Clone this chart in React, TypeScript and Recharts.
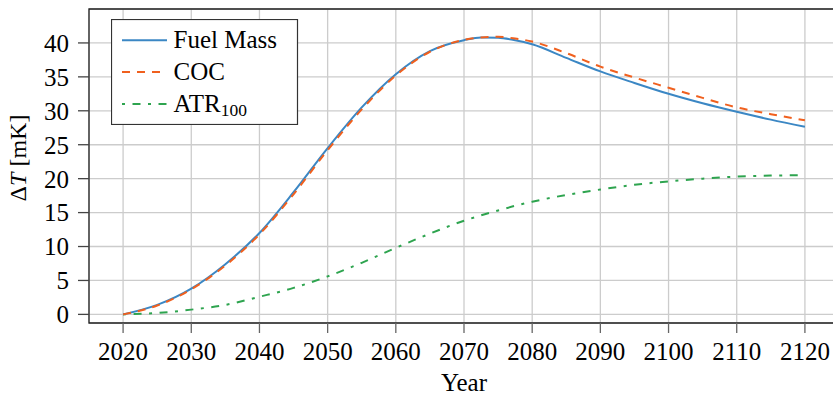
import React from 'react';
import { LineChart, Line, XAxis, YAxis, CartesianGrid, ReferenceArea } from 'recharts';

const years = [2020, 2025, 2030, 2035, 2040, 2045, 2050, 2055, 2060, 2065, 2070, 2072.5, 2075, 2077.5, 2080, 2085, 2090, 2095, 2100, 2105, 2110, 2115, 2120];
const fuelMass = [0, 1.4, 3.8, 7.4, 12.0, 18.0, 24.5, 30.5, 35.4, 38.8, 40.4, 40.8, 40.75, 40.4, 39.8, 37.8, 35.8, 34.1, 32.5, 31.1, 29.85, 28.7, 27.65];
const coc = [0, 1.3, 3.7, 7.2, 11.8, 17.7, 24.2, 30.2, 35.2, 38.7, 40.45, 40.8, 40.9, 40.65, 40.2, 38.5, 36.5, 34.9, 33.4, 31.9, 30.5, 29.5, 28.6];
const atr100 = [0, 0.2, 0.7, 1.4, 2.6, 3.9, 5.6, 7.6, 9.8, 11.9, 13.8, 14.6, 15.3, 16.0, 16.6, 17.6, 18.4, 19.1, 19.6, 20.0, 20.3, 20.45, 20.5];
const xTicks = [2020, 2030, 2040, 2050, 2060, 2070, 2080, 2090, 2100, 2110, 2120];
const yTicks = [0, 5, 10, 15, 20, 25, 30, 35, 40];
const seriesNames = ['Fuel Mass', 'COC', 'ATR'];

const data = years.map((y, i) => ({ year: y, fuel: fuelMass[i], coc: coc[i], atr: atr100[i] }));

const FONT = "'Liberation Serif', serif";
const BLUE = '#3b87c4';
const ORANGE = '#f0601e';
const GREEN = '#2ea44f';
const COC_DASH = '8 7';
const ATR_DASH = '3 7.5 8 7.5';

const LegendBox = () => {
  const rows = [
    { name: seriesNames[0], color: BLUE, dash: undefined as string | undefined, sub: '' },
    { name: seriesNames[1], color: ORANGE, dash: COC_DASH, sub: '' },
    { name: seriesNames[2], color: GREEN, dash: ATR_DASH, sub: '100' },
  ];
  return (
    <svg width={188} height={106} style={{ display: 'block' }}>
      <rect x={0.5} y={0.5} width={186} height={105} fill="#fff" stroke="#333" strokeWidth={1.2} />
      {rows.map((r, i) => {
        const ly = 21.3 + i * 31.8;
        return (
          <g key={r.name}>
            <line x1={11} x2={56} y1={ly} y2={ly} stroke={r.color} strokeWidth={2} strokeDasharray={r.dash} />
            <text x={62.5} y={ly + 7.6} fontFamily={FONT} fontSize={25} fill="#000">
              {r.name}
              {r.sub ? (
                <tspan fontSize={17.5} dy={4}>{r.sub}</tspan>
              ) : null}
            </text>
          </g>
        );
      })}
    </svg>
  );
};

export default function App() {
  return (
    <div style={{ position: 'absolute', left: 0, top: 0, width: 833, height: 395, overflow: 'hidden', background: '#fff' }}>
      <LineChart width={860} height={395} data={data} margin={{ top: 9, right: 21, left: 0, bottom: 0 }}>
        <CartesianGrid stroke="#cccccc" strokeWidth={1.3} />
        <XAxis
          dataKey="year"
          type="number"
          domain={[2015, 2125]}
          ticks={xTicks}
          allowDataOverflow
          height={72}
          axisLine={false}
          tickSize={10}
          tickMargin={9.5}
          tickLine={{ stroke: '#666', strokeWidth: 1.3 }}
          tick={{ fill: '#000', fontSize: 25, fontFamily: FONT }}
          interval={0}
          label={{
            content: (p: any) => {
              const vb = p.viewBox || {};
              return (
                <text x={vb.x + vb.width / 2} y={vb.y + 68} textAnchor="middle" fontFamily={FONT} fontSize={25} fill="#000">
                  Year
                </text>
              );
            },
          }}
        />
        <YAxis
          type="number"
          domain={[-1.27, 45]}
          ticks={yTicks}
          allowDataOverflow
          width={89}
          axisLine={false}
          tickSize={11}
          tickMargin={9}
          tickLine={{ stroke: '#444', strokeWidth: 1.3 }}
          tick={{ fill: '#000', fontSize: 25, fontFamily: FONT }}
          interval={0}
          label={{
            content: (p: any) => {
              const vb = p.viewBox || {};
              return (
                <text transform={`translate(${vb.x + 26},158) rotate(-90)`} textAnchor="middle" fontFamily={FONT} fontSize={24} fill="#000">
                  Δ<tspan fontStyle="italic">T</tspan> [mK]
                </text>
              );
            },
          }}
        />
        <ReferenceArea x1={2015} x2={2125} y1={-1.27} y2={45} fill="none" stroke="#222" strokeWidth={1.3} ifOverflow="visible" />
        <Line type="monotone" dataKey="atr" stroke={GREEN} strokeWidth={2} strokeDasharray={ATR_DASH} dot={false} isAnimationActive={false} />
        <Line type="monotone" dataKey="fuel" stroke={BLUE} strokeWidth={2} dot={false} isAnimationActive={false} />
        <Line type="monotone" dataKey="coc" stroke={ORANGE} strokeWidth={2} strokeDasharray={COC_DASH} dot={false} isAnimationActive={false} />
      </LineChart>
      <div style={{ position: 'absolute', left: 110.7, top: 19 }}>
        <LegendBox />
      </div>
    </div>
  );
}
